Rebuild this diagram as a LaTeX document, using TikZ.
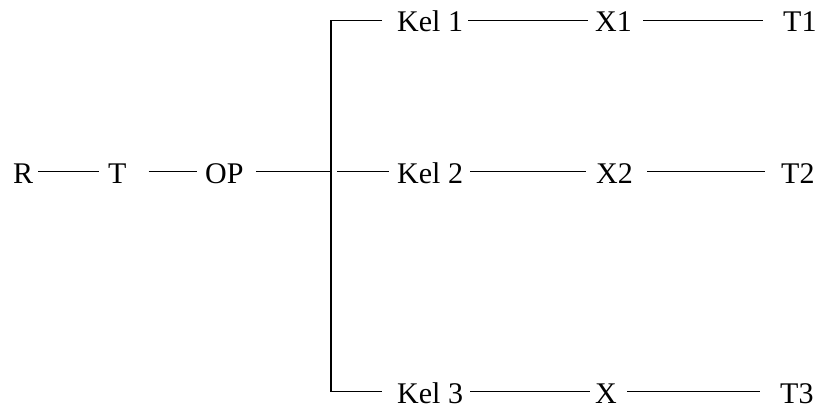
\documentclass[tikz,border=0pt]{standalone}
\usepackage{fontspec}
\setmainfont{Liberation Serif}
\begin{document}
\begin{tikzpicture}[x=1pt,y=-1pt,
  lbl/.style={inner sep=0pt, text height=23pt, text depth=0pt, anchor=base west, font=\fontsize{30}{32}\selectfont},
  conn/.style={line width=1.8pt}]
\useasboundingbox (0,0) rectangle (818,409);
% row 2
\node[lbl] (r)  at (13,183) {R};
\node[lbl] (t)  at (108,183) {T};
\node[lbl] (op) at (205,183) {OP};
\node[lbl] (k2) at (397,183) {Kel 2};
\node[lbl] (x2) at (596,183) {X2};
\node[lbl] (t2) at (781,183) {T2};
% row 1
\node[lbl] (k1) at (397,32) {Kel 1};
\node[lbl] (x1) at (595,32) {X1};
\node[lbl] (t1) at (783,32) {T1};
% row 3
\node[lbl] (k3) at (397,403) {Kel 3};
\node[lbl] (x3) at (595,403) {X};
\node[lbl] (t3) at (780,403) {T3};
% junctions
\coordinate (j1) at (331,20.5);
\coordinate (j2) at (331,171.5);
\coordinate (j3) at (331,391.5);
% connectors row 2
\draw[conn, shorten <=5, shorten >=9] (r.east) -- (t.west);
\draw[conn, shorten <=22, shorten >=8] (t.east) -- (op.west);
\draw[conn, shorten <=12] (op.east) -- (j2);
\draw[conn, shorten <=6, shorten >=8] (j2) -- (k2.west);
\draw[conn, shorten <=7, shorten >=10] (k2.east) -- (x2.west);
\draw[conn, shorten <=14, shorten >=16] (x2.east) -- (t2.west);
% bracket
\draw[conn, shorten <=15, shorten >=15] (k1.west) -- (j1) -- (j3) -- (k3.west);
% row 1
\draw[conn, shorten <=5, shorten >=7] (k1.east) -- (x1.west);
\draw[conn, shorten <=11, shorten >=20] (x1.east) -- (t1.west);
% row 3
\draw[conn, shorten <=7, shorten >=5] (k3.east) -- (x3.west);
\draw[conn, shorten <=10, shorten >=20] (x3.east) -- (t3.west);
\end{tikzpicture}
\end{document}
